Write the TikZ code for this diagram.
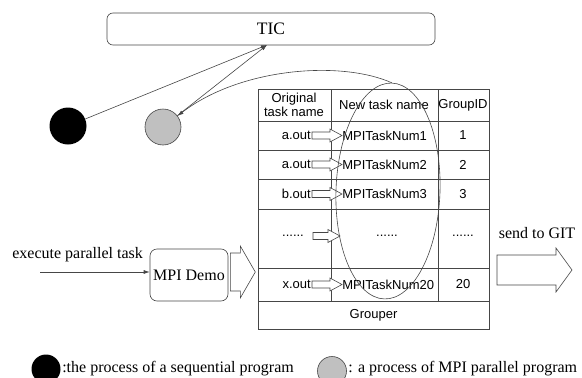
\documentclass[tikz,border=0pt]{standalone}
\usepackage{fontspec}
\setmainfont{Liberation Serif}
\setsansfont{Liberation Sans}
\usetikzlibrary{arrows.meta, shapes.geometric}
\definecolor{line}{RGB}{70, 70, 70}
\definecolor{proc}{RGB}{192, 192, 192}

\tikzset{
  cell/.style={font=\sffamily\fontsize{13}{14.5}\selectfont, inner sep=0pt},
  lbl/.style={font=\fontsize{16}{18}\selectfont, inner sep=0pt},
  hollow/.style={draw=line, fill=white, line width=0.6pt}
}

\begin{document}
\begin{tikzpicture}[x=1pt, y=-1pt, line width=0.6pt, >={Latex[length=6pt, width=4pt]}]
  \useasboundingbox (0, 0) rectangle (582, 378);

  % TIC and the two processes
  \node[draw=line, rounded corners=6pt, minimum width=328pt, minimum height=32pt,
        font=\fontsize{17.5}{18}\selectfont] (tic) at (271, 29) {TIC};
  \node[circle, fill=black, minimum size=37pt, inner sep=0pt] (seq) at (68, 126) {};
  \node[circle, draw=line, fill=proc, minimum size=36pt, inner sep=0pt] (par) at (163, 127) {};
  \coordinate (ticin) at (267, 45);

  \draw [->, color=line] (seq) -- (ticin);
  \draw [->, color=line] (par) -- (ticin);

  % grouper table
  \draw [color=line] (258, 89) rectangle (489, 329);
  \foreach \y in {121, 150, 179, 209, 268, 301}
    \draw [color=line] (258, \y) -- (489, \y);
  \foreach \x in {331, 438}
    \draw [color=line] (\x, 89) -- (\x, 301);

  \node[cell, align=center] (orig) at (294, 105) {Original\\task name};
  \node[cell] (newname) at (384, 105) {New task name};
  \node[cell] (groupid) at (463, 105) {GroupID};

  \foreach \y/\src/\dst/\gid in {135.5/a.out/MPITaskNum1/1, 164.5/a.out/MPITaskNum2/2,
                                 194/b.out/MPITaskNum3/3, 284.5/x.out/MPITaskNum20/20} {
    \node[cell, anchor=east] (src\gid) at (311, \y) {\src};
    \node[cell, anchor=west] (dst\gid) at (342, \y) {\dst};
    \node[cell] (gid\gid) at (463, \y) {\gid};
    \draw [hollow] (src\gid.east) ++(1, -3.5) -- ++(18, 0) -- ++(0, -3) -- (dst\gid.west)
      -- ++(-12, 6.5) -- ++(0, -3) -- ++(-18, 0) -- cycle;
  }

  \node[cell] (srcdots) at (293, 236) {......};
  \node[cell] (dstdots) at (387, 236) {......};
  \node[cell] (giddots) at (463, 236) {......};
  \coordinate (dotsin) at (313, 236);
  \coordinate (dotsout) at (340, 236);
  \draw [hollow] (dotsin) ++(0, -3.5) -- ++(15, 0) -- ++(0, -3) -- (dotsout)
    -- ++(-12, 6.5) -- ++(0, -3) -- ++(-15, 0) -- cycle;

  \node[cell] (grouper) at (373.5, 315) {Grouper};

  \node[draw=line, ellipse, minimum width=104pt, minimum height=216pt, inner sep=0pt,
        rotate=-2] (rename) at (388, 191) {};
  \draw [->, color=line] (rename.north) .. controls (340, 60) and (240, 68) .. (par);

  % MPI Demo input
  \node[draw=line, rounded corners=7pt, minimum width=78pt, minimum height=52pt, lbl] (demo) at (189, 275) {MPI Demo};
  \coordinate (execin) at (40, 272);
  \draw [->, color=line] (execin) -- (execin -| demo.west);
  \node[lbl, anchor=west] (exec) at (12, 255) {execute parallel task};

  \draw [hollow] (demo.east) ++(2, -22) -- ++(10, 0) -- ++(0, -7) -- ++(15, 26)
    -- ++(-15, 26) -- ++(0, -7) -- ++(-10, 0) -- cycle;

  % output to GIT
  \node[lbl] (git) at (537, 233) {send to GIT};
  \coordinate (gitout) at (497, 270);
  \draw [hollow] (gitout) ++(0, -15) -- ++(59, 0) -- ++(0, -7) -- ++(16, 22)
    -- ++(-16, 22) -- ++(0, -7) -- ++(-59, 0) -- cycle;

  % legend
  \node[circle, fill=black, minimum size=29pt, inner sep=0pt] (seqkey) at (46, 369) {};
  \node[lbl, anchor=west] (seqtxt) at (62, 369) {:the process of a sequential program};
  \node[circle, draw=line, fill=proc, minimum size=29pt, inner sep=0pt] (parkey) at (332, 371) {};
  \node[lbl, anchor=west] (partxt) at (348, 369) {: a process of MPI parallel program};
\end{tikzpicture}
\end{document}
